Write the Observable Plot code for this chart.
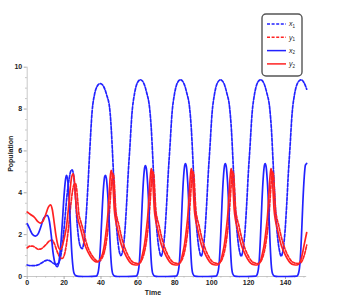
<!DOCTYPE html>
<html><head><meta charset="utf-8">
<script src="https://cdn.jsdelivr.net/npm/d3@7"></script>
<script src="https://cdn.jsdelivr.net/npm/@observablehq/plot@0.6"></script>
<style>
html,body{margin:0;padding:0;background:#fff;}
#wrap{position:relative;width:354px;height:300px;overflow:hidden;}
#wrap svg{position:absolute;left:0;top:0;}
</style></head>
<body><div id="wrap"></div>
<script>
const xTicks = [0,20,40,60,80,100,120,140];
const xMinor = [5,10,15,25,30,35,45,50,55,65,70,75,85,90,95,105,110,115,125,130,135,145,150];
const yTicks = [0,2,4,6,8,10];
const yMinor = [0.5,1,1.5,2.5,3,3.5,4.5,5,5.5,6.5,7,7.5,8.5,9,9.5];
const seriesNames = ["x1","y1","x2","y2"];

// x1 (dashed blue)
const x1 = [[0,0.55],[2,0.52],[4,0.52],[6,0.56],[8,0.66],[10,0.76],[11.2,0.78],[12.5,0.74],[14,0.64],[15.5,0.58],[16.8,0.62],[18,0.9],[19.2,1.6],[20.4,2.7],[21.6,3.9],[22.8,4.7],[23.7,5.05],[24.4,5.1],[25.2,4.8],[26.1,3.9],[27.1,2.5],[28,1.75],[29,1.4],[29.8,1.33],[30.8,1.7],[31.8,2.7],[32.9,4.3],[33.9,6.0],[35.2,7.9],[36.5,8.7],[38,9.1],[39.7,9.22],[41.4,9.08],[43,8.7],[44.8,7.95],[45.6,7.0],[46.3,5.8],[47.1,4.3],[48,2.9],[48.9,1.9],[49.8,1.25],[50.8,1.0],
[51.9,1.3],[52.9,2.1],[53.9,3.5],[54.8,5.0],[55.6,6.1],[56.8,7.8],[58.1,8.7],[59.7,9.25],[61.4,9.4],[63.1,9.25],[64.7,8.8],[66.4,8.0],[67.3,7.0],[68.0,5.8],[68.8,4.3],[69.7,2.9],[70.6,1.9],[71.6,1.25],[72.6,0.97],
[73.6,1.3],[74.6,2.1],[75.6,3.5],[76.5,5.0],[77.3,6.1],[78.5,7.8],[79.8,8.7],[81.4,9.25],[83.1,9.4],[84.8,9.25],[86.4,8.8],[88.1,8.0],[89.0,7.0],[89.7,5.8],[90.5,4.3],[91.4,2.9],[92.3,1.9],[93.3,1.25],[94.3,0.97],
[95.3,1.3],[96.3,2.1],[97.3,3.5],[98.2,5.0],[99.0,6.1],[100.2,7.8],[101.5,8.7],[103.1,9.25],[104.8,9.4],[106.5,9.25],[108.1,8.8],[109.8,8.0],[110.7,7.0],[111.4,5.8],[112.2,4.3],[113.1,2.9],[114.0,1.9],[115.0,1.25],[116.0,0.97],
[117.0,1.3],[118.0,2.1],[119.0,3.5],[119.9,5.0],[120.7,6.1],[121.9,7.8],[123.2,8.7],[124.8,9.25],[126.5,9.4],[128.2,9.25],[129.8,8.8],[131.5,8.0],[132.4,7.0],[133.1,5.8],[133.9,4.3],[134.8,2.9],[135.7,1.9],[136.7,1.25],[137.7,0.97],
[138.7,1.3],[139.7,2.1],[140.7,3.5],[141.6,5.0],[142.4,6.1],[143.6,7.8],[144.9,8.7],[146.6,9.25],[148.4,9.4],[150.1,9.25],[151.5,8.95]];

// y1 (dashed red)
const y1 = [[0,1.37],[1.5,1.45],[3,1.45],[4.5,1.38],[6,1.3],[7.5,1.32],[9,1.42],[10.5,1.55],[12,1.7],[13.5,1.74],[14.8,1.55],[16,1.25],[17.2,1.0],[18.3,0.88],[19,0.86],[19.8,0.95],[20.6,1.2],[21.6,1.75],[22.6,2.5],[23.6,3.4],[24.6,4.1],[25.4,4.4],[26.2,4.43],[26.8,4.2],[27.4,3.6],[28,3.0],[28.8,2.7],[29.8,2.4],[30.8,2.05],[31.8,1.7],[33.3,1.3],[35.3,0.98],[37,0.8],[38.4,0.72],[39.4,0.74],
[40.4,0.85],[41.4,1.05],[42.4,1.4],[43.4,2.0],[44.4,2.85],[45.2,3.9],[45.9,4.6],[46.5,4.9],[47.0,4.75],[47.5,4.0],[48.0,3.2],[48.7,2.8],[49.7,2.45],[50.7,2.05],[51.7,1.7],[53.2,1.3],[55.2,0.92],[56.8,0.72],[58.6,0.64],
[60.1,0.62],[61.1,0.65],[62.1,0.78],[63.1,1.02],[64.1,1.4],[65.1,2.0],[66.1,2.85],[66.9,3.9],[67.6,4.75],[68.2,5.0],[68.7,4.8],[69.2,4.0],[69.7,3.2],[70.4,2.8],[71.4,2.45],[72.4,2.05],[73.4,1.7],[74.9,1.3],[76.9,0.92],[78.5,0.72],[80.3,0.64],
[81.8,0.62],[82.8,0.65],[83.8,0.78],[84.8,1.02],[85.8,1.4],[86.8,2.0],[87.8,2.85],[88.6,3.9],[89.3,4.75],[89.9,5.0],[90.4,4.8],[90.9,4.0],[91.4,3.2],[92.1,2.8],[93.1,2.45],[94.1,2.05],[95.1,1.7],[96.6,1.3],[98.6,0.92],[100.2,0.72],[102.0,0.64],
[103.4,0.62],[104.4,0.65],[105.4,0.78],[106.4,1.02],[107.4,1.4],[108.4,2.0],[109.4,2.85],[110.2,3.9],[110.9,4.75],[111.5,5.0],[112.0,4.8],[112.5,4.0],[113.0,3.2],[113.7,2.8],[114.7,2.45],[115.7,2.05],[116.7,1.7],[118.2,1.3],[120.2,0.92],[121.8,0.72],[123.6,0.64],
[125.0,0.62],[126.0,0.65],[127.0,0.78],[128.0,1.02],[129.0,1.4],[130.0,2.0],[131.0,2.85],[131.8,3.9],[132.5,4.75],[133.1,5.0],[133.6,4.8],[134.1,4.0],[134.6,3.2],[135.3,2.8],[136.3,2.45],[137.3,2.05],[138.3,1.7],[139.8,1.3],[141.8,0.92],[143.4,0.72],[145.2,0.64],
[147.2,0.62],[148.2,0.65],[149.2,0.78],[150.2,1.02],[151.5,1.5]];

// x2 (solid blue)
const x2 = [[0,2.52],[1,2.35],[2,2.15],[3,2.0],[4.5,1.93],[6,2.05],[7.5,2.4],[9,2.8],[10.8,2.92],[12,2.65],[13,2.0],[14,1.15],[15.2,0.6],[16.3,0.47],[17.2,0.7],[18.1,1.4],[19,2.5],[20,3.9],[20.8,4.65],[21.3,4.83],[21.8,4.7],[22.5,4.0],[23.3,2.7],[24,1.4],[24.7,0.55],[25.3,0.18],[26.3,0.04],[28,0.01],[33,0],
[37.4,0.02],[38.4,0.18],[39.2,0.75],[39.9,1.8],[40.6,3.1],[41.4,4.3],[42.0,4.78],[42.4,4.83],[42.9,4.7],[43.6,4.0],[44.4,2.7],[45.1,1.3],[45.7,0.5],[46.4,0.12],[47.4,0.02],[49,0],[54,0],
[59.1,0.02],[60.1,0.2],[60.9,0.8],[61.6,2.0],[62.3,3.4],[63.1,4.7],[63.7,5.22],[64.1,5.3],[64.6,5.15],[65.3,4.4],[66.1,3.0],[66.8,1.45],[67.4,0.55],[68.1,0.13],[69.1,0.02],[71,0],[76,0],
[80.8,0.02],[81.8,0.2],[82.6,0.8],[83.3,2.0],[84.0,3.5],[84.8,4.8],[85.4,5.32],[85.8,5.4],[86.3,5.25],[87.0,4.5],[87.8,3.05],[88.5,1.5],[89.1,0.55],[89.8,0.13],[90.8,0.02],[93,0],[98,0],
[102.4,0.02],[103.4,0.2],[104.2,0.8],[104.9,2.0],[105.6,3.5],[106.4,4.8],[107.0,5.32],[107.4,5.4],[107.9,5.25],[108.6,4.5],[109.4,3.05],[110.1,1.5],[110.7,0.55],[111.4,0.13],[112.4,0.02],[114.5,0],[119,0],
[124.0,0.02],[125.0,0.2],[125.8,0.8],[126.5,2.0],[127.2,3.5],[128.0,4.8],[128.6,5.32],[129.0,5.4],[129.5,5.25],[130.2,4.5],[131.0,3.05],[131.7,1.5],[132.3,0.55],[133.0,0.13],[134.0,0.02],[136,0],[141,0],
[146.2,0.02],[147.2,0.2],[148.0,0.8],[148.7,2.0],[149.4,3.5],[150.2,4.8],[150.8,5.32],[151.5,5.4]];

// y2 (solid red)
const y2 = [[0,3.08],[2,2.95],[4,2.82],[5.8,2.62],[7.2,2.55],[8.6,2.65],[10,2.95],[11.4,3.3],[12.6,3.42],[13.6,3.2],[14.6,2.6],[15.6,1.95],[16.6,1.5],[17.4,1.32],[18.1,1.3],[19,1.45],[20,1.8],[21.3,2.4],[22.3,3.2],[23.2,4.1],[24.1,4.75],[24.9,4.9],[25.5,4.65],[26.1,3.9],[26.8,3.1],[27.6,2.7],[28.6,2.4],[29.6,2.05],[30.6,1.7],[32,1.35],[34,1.0],[35.6,0.8],[37.2,0.7],[38.4,0.7],[39.4,0.8],[40.9,1.1],[41.9,1.55],
[42.9,2.25],[43.7,2.95],[44.4,3.9],[45.0,4.75],[45.5,5.07],[46.0,4.95],[46.6,4.2],[47.2,3.2],[47.9,2.7],[48.9,2.3],[49.9,1.9],[50.9,1.55],[52.4,1.2],[54.4,0.85],[56.0,0.65],[57.9,0.56],[59.6,0.55],
[60.6,0.6],[61.6,0.75],[62.6,1.1],[63.6,1.55],[64.6,2.25],[65.4,2.95],[66.1,3.9],[66.7,4.75],[67.2,5.15],[67.7,5.0],[68.3,4.2],[68.9,3.2],[69.6,2.7],[70.6,2.3],[71.6,1.9],[72.6,1.55],[74.1,1.2],[76.1,0.85],[77.7,0.65],[79.6,0.56],[81.3,0.55],
[82.3,0.6],[83.3,0.75],[84.3,1.1],[85.3,1.55],[86.3,2.25],[87.1,2.95],[87.8,3.9],[88.4,4.75],[88.9,5.15],[89.4,5.0],[90.0,4.2],[90.6,3.2],[91.3,2.7],[92.3,2.3],[93.3,1.9],[94.3,1.55],[95.8,1.2],[97.8,0.85],[99.4,0.65],[101.3,0.56],[102.9,0.55],
[103.9,0.6],[104.9,0.75],[105.9,1.1],[106.9,1.55],[107.9,2.25],[108.7,2.95],[109.4,3.9],[110.0,4.75],[110.5,5.15],[111.0,5.0],[111.6,4.2],[112.2,3.2],[112.9,2.7],[113.9,2.3],[114.9,1.9],[115.9,1.55],[117.4,1.2],[119.4,0.85],[121.0,0.65],[122.9,0.56],[124.5,0.55],
[125.5,0.6],[126.5,0.75],[127.5,1.1],[128.5,1.55],[129.5,2.25],[130.3,2.95],[131.0,3.9],[131.6,4.75],[132.1,5.15],[132.6,5.0],[133.2,4.2],[133.8,3.2],[134.5,2.7],[135.5,2.3],[136.5,1.9],[137.5,1.55],[139.0,1.2],[141.0,0.85],[142.6,0.65],[144.5,0.56],[146.2,0.55],
[147.2,0.6],[148.2,0.75],[149.2,1.1],[150.2,1.55],[151.5,2.1]];

const BLUE = "#2222ff", RED = "#ff2222";
const styles = {
  x1: {stroke: BLUE, dash: "3,1.6"},
  y1: {stroke: RED, dash: "3,1.6"},
  x2: {stroke: BLUE, dash: null},
  y2: {stroke: RED, dash: null}
};
const dataBy = {x1, y1, x2, y2};

function lineMark(name) {
  const s = styles[name];
  return Plot.line(dataBy[name], {x: d => d[0], y: d => d[1], stroke: s.stroke, strokeWidth: 1.7,
    strokeDasharray: s.dash, curve: "monotone-x"});
}

const chart = Plot.plot({
  width: 354, height: 300,
  marginLeft: 26.7, marginRight: 47.8, marginTop: 66.7, marginBottom: 24,
  x: {domain: [0, 151.5]},
  y: {domain: [0, 10]},
  style: {fontFamily: "'Liberation Sans', Arial, sans-serif", fontSize: "7px", fontWeight: "bold", color: "#222", background: "transparent"},
  marks: [
    Plot.ruleX([0], {stroke: "#c8c8c8", strokeWidth: 1}),
    Plot.ruleY([0], {stroke: "#c8c8c8", strokeWidth: 1}),
    Plot.axisY({ticks: yTicks, tickSize: 3, tickPadding: 2, stroke: "#aaa", label: null}),
    Plot.axisY({ticks: yMinor, tickSize: 1.5, stroke: "#bbb", text: null, label: null}),
    Plot.axisX({ticks: xTicks, tickSize: 3, tickPadding: 1, stroke: "#aaa", label: null}),
    Plot.axisX({ticks: xMinor, tickSize: 1.5, stroke: "#bbb", text: null, label: null}),
    ...seriesNames.map(lineMark),
    Plot.text(["Population"], {text: d => d, frameAnchor: "left", rotate: -90, dx: -16, fontWeight: "bold", fontSize: 7}),
    Plot.text(["Time"], {text: d => d, frameAnchor: "bottom", dy: 18, dx: -14, fontWeight: "bold", fontSize: 7})
  ]
});
document.getElementById("wrap").appendChild(chart);

// legend
const legendItems = [
  {name: "x1", base: "x", sub: "1"},
  {name: "y1", base: "y", sub: "1"},
  {name: "x2", base: "x", sub: "2"},
  {name: "y2", base: "y", sub: "2"}
];
const lg = d3.select("#wrap").append("svg").attr("width", 354).attr("height", 300)
  .style("pointer-events", "none");
lg.append("rect").attr("x", 262).attr("y", 14).attr("width", 40).attr("height", 62)
  .attr("rx", 4).attr("fill", "#fff").attr("stroke", "#555").attr("stroke-width", 1.4);
legendItems.forEach((it, i) => {
  const cy = 24 + i * 13.3;
  const s = styles[it.name];
  lg.append("line").attr("x1", 267).attr("x2", 286).attr("y1", cy).attr("y2", cy)
    .attr("stroke", s.stroke).attr("stroke-width", 1.5)
    .attr("stroke-dasharray", s.dash);
  const t = lg.append("text").attr("x", 289).attr("y", cy + 2.3)
    .attr("font-family", "'Liberation Sans', Arial, sans-serif").attr("font-size", 7)
    .attr("fill", "#222");
  t.append("tspan").attr("font-style", "italic").text(it.base);
  t.append("tspan").attr("font-size", 4.5).attr("dy", 1.5).text(it.sub);
});
</script>
</body></html>
